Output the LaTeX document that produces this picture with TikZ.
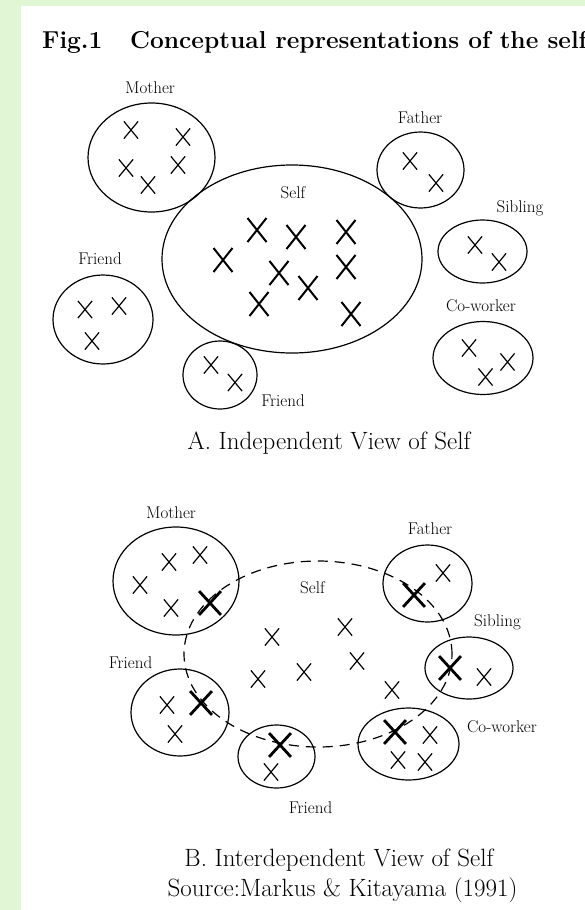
\documentclass[tikz,border=0pt]{standalone}
\usetikzlibrary{shapes.geometric,shapes.misc}
\definecolor{bgg}{RGB}{225,246,212}
\begin{document}
\begin{tikzpicture}[x=1pt,y=-1pt,
  lab/.style={font=\fontsize{17}{20}\selectfont, inner sep=0pt, anchor=base},
  capt/.style={font=\fontsize{25}{29}\selectfont, inner sep=0pt, anchor=base},
  ttl/.style={font=\fontsize{24.5}{29}\selectfont\bfseries, inner sep=0pt, anchor=base west},
  grp/.style={ellipse, draw, line width=1.2pt, inner sep=0pt},
  xs/.style={cross out, draw, inner sep=0pt, minimum width=13pt, minimum height=16pt, line width=1.2pt},
  xl/.style={cross out, draw, inner sep=0pt, minimum width=17pt, minimum height=22pt, line width=2pt},
  xb/.style={cross out, draw, inner sep=0pt, minimum width=19pt, minimum height=21pt, line width=2.8pt},
  selfdash/.style={ellipse, draw, inner sep=0pt, line width=1.2pt, dash pattern=on 10pt off 7pt}]
\useasboundingbox (0,0) rectangle (585,910);
\clip (0,0) rectangle (585,910);
\fill[bgg] (0,0) rectangle (585,910);
\fill[white] (21,6) rectangle (585,910);
% title
\node[ttl] (t1) at (42,48) {Fig.1};
\node[ttl] (t2) at (130,48) {Conceptual representations of the self};
% ---------- A ----------
\node[grp, minimum width=127pt, minimum height=109pt] (mA) at (151.5,157.5) {};
\node[grp, minimum width=260pt, minimum height=188pt] (sA) at (292,259) {};
\node[grp, minimum width=87pt, minimum height=76pt] (faA) at (420.5,170) {};
\node[grp, minimum width=89pt, minimum height=63pt] (siA) at (482.5,251.5) {};
\node[grp, minimum width=100pt, minimum height=89pt] (frA) at (103,319.5) {};
\node[grp, minimum width=74pt, minimum height=68pt] (fbA) at (220,375) {};
\node[grp, minimum width=100pt, minimum height=73pt] (cwA) at (483,358) {};
\node[lab] (lmA) at (150,93) {Mother};
\node[lab] (lsA) at (293,198) {Self};
\node[lab] (lfaA) at (420,123) {Father};
\node[lab] (lsiA) at (520,212) {Sibling};
\node[lab] (lfrA) at (100,264) {Friend};
\node[lab] (lcwA) at (481,311) {Co-worker};
\node[lab] (lfbA) at (283,406) {Friend};
\node[capt] (capA) at (329,449) {A. Independent View of Self};
% X marks A
\node[xs] (mA1) at (131,130) {};
\node[xs] (mA2) at (183,137) {};
\node[xs] (mA3) at (126,168) {};
\node[xs] (mA4) at (178,165) {};
\node[xs] (mA5) at (148,185) {};
\node[xs] (faA1) at (410,161) {};
\node[xs] (faA2) at (436,183) {};
\node[xs] (siA1) at (475,245) {};
\node[xs] (siA2) at (499,262) {};
\node[xs] (frA1) at (85,309.5) {};
\node[xs] (frA2) at (119,306) {};
\node[xs] (frA3) at (92,341) {};
\node[xs] (fbA1) at (211,365) {};
\node[xs] (fbA2) at (235,382.5) {};
\node[xs] (cwA1) at (469,348) {};
\node[xs] (cwA2) at (507.5,362) {};
\node[xs] (cwA3) at (485.5,377) {};
\node[xl] (sA1) at (257,230) {};
\node[xl] (sA2) at (296,237) {};
\node[xl] (sA3) at (346,232) {};
\node[xl] (sA4) at (223,260) {};
\node[xl] (sA5) at (346,267) {};
\node[xl] (sA6) at (279,273) {};
\node[xl] (sA7) at (308,288) {};
\node[xl] (sA8) at (259,304) {};
\node[xl] (sA9) at (351,314) {};
% ---------- B ----------
\node[selfdash, minimum width=268pt, minimum height=186pt] (sB) at (318,654) {};
\node[grp, minimum width=126pt, minimum height=108pt] (mB) at (176,581) {};
\node[grp, minimum width=89pt, minimum height=77pt] (faB) at (427.5,583.5) {};
\node[grp, minimum width=88pt, minimum height=62pt] (siB) at (469,668) {};
\node[grp, minimum width=98pt, minimum height=87pt] (frB) at (180,712.5) {};
\node[grp, minimum width=77pt, minimum height=63pt] (fbB) at (276.5,756.5) {};
\node[grp, minimum width=101pt, minimum height=72pt] (cwB) at (408.5,744) {};
\node[lab] (lmB) at (171,518) {Mother};
\node[lab] (lsB) at (312.5,593) {Self};
\node[lab] (lfaB) at (430,534) {Father};
\node[lab] (lsiB) at (497.5,626) {Sibling};
\node[lab] (lfrB) at (130.5,668) {Friend};
\node[lab] (lcwB) at (502,732) {Co-worker};
\node[lab] (lfbB) at (310.5,813) {Friend};
\node[capt] (capB) at (339,866.5) {B. Interdependent View of Self};
\node[capt] (src) at (342.5,896) {Source:Markus \& Kitayama (1991)};
% X marks B
\node[xs] (mB1) at (169,562) {};
\node[xs] (mB2) at (200,555) {};
\node[xs] (mB3) at (140,585) {};
\node[xs] (mB4) at (171,608) {};
\node[xb] (mB5) at (210,603) {};
\node[xs] (faB1) at (443,573) {};
\node[xb] (faB2) at (414,595) {};
\node[xb] (siB1) at (450,668) {};
\node[xs] (siB2) at (484,677) {};
\node[xs] (frB1) at (167,705) {};
\node[xb] (frB2) at (201,703) {};
\node[xs] (frB3) at (175,734) {};
\node[xb] (fbB1) at (280,745) {};
\node[xs] (fbB2) at (271,772) {};
\node[xb] (cwB1) at (395,732) {};
\node[xs] (cwB2) at (430,735) {};
\node[xs] (cwB3) at (398,760) {};
\node[xs] (cwB4) at (425,762) {};
\node[xs] (sB1) at (272,637) {};
\node[xs] (sB2) at (345,627) {};
\node[xs] (sB3) at (258,679) {};
\node[xs] (sB4) at (304,672) {};
\node[xs] (sB5) at (357,661) {};
\node[xs] (sB6) at (392,690) {};
\end{tikzpicture}
\end{document}
